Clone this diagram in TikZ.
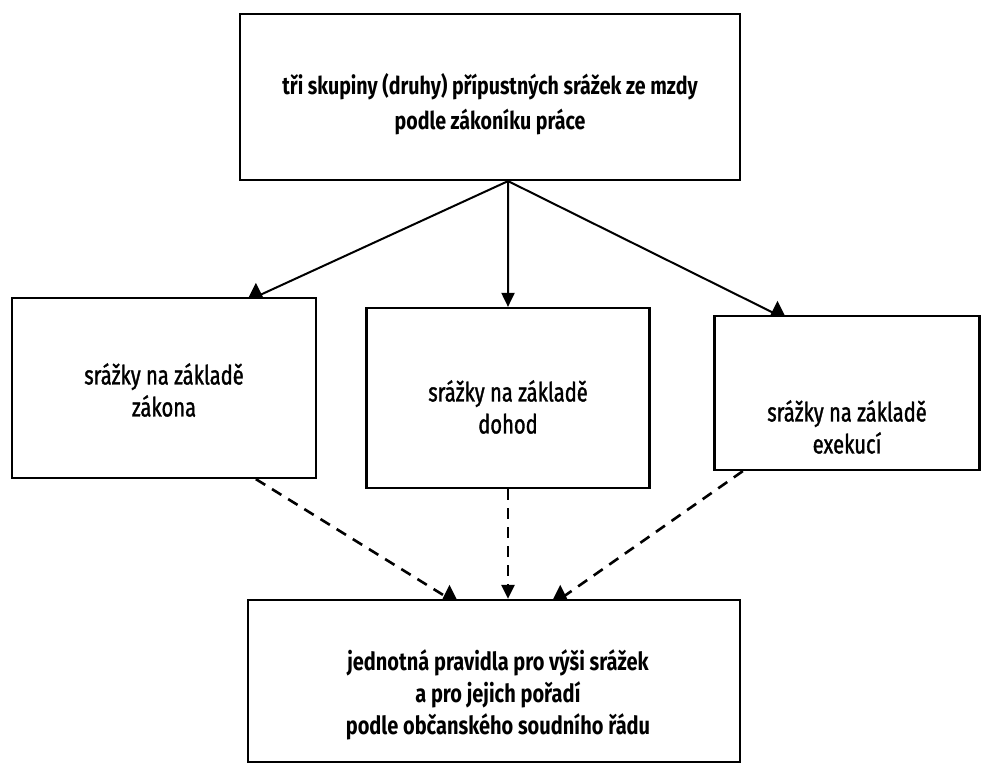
\documentclass[tikz,border=0pt]{standalone}
\usepackage{fontspec}
\setmainfont{Fira Sans}[FakeStretch=0.8]
\newfontfamily\medfont{Fira Sans}[FakeStretch=0.76, FakeBold=1.3]
\usepackage{tikz}
\usetikzlibrary{positioning, calc, arrows.meta}

\newcommand{\uptip}[1]{\fill ($(#1)+(-7,0)$) -- ($(#1)+(7,0)$) -- ($(#1)+(0,-14)$) -- cycle;}

\begin{document}
\begin{tikzpicture}[x=1pt, y=-1pt,
    box/.style={draw, line width=2.2pt, inner sep=0pt},
    smalltext/.style={align=center, inner sep=0pt, font=\medfont\fontsize{26.5}{32}\selectfont},
    bigtext/.style={align=center, inner sep=0pt, font=\bfseries\fontsize{24.5}{35}\selectfont},
    link/.style={line width=2pt},
    downtip/.style={-{Triangle[width=13pt, length=14pt]}}]
        \useasboundingbox (0,0) rectangle (984,767);

        % the boxes
        \node[box, minimum width=500pt, minimum height=166pt] (top) at (490,97) {};
        \node[box, minimum width=304pt, minimum height=180pt] (zakon) at (164,388) {};
        \node[box, minimum width=283pt, minimum height=180pt] (dohoda) at (508,398) {};
        \node[box, minimum width=265pt, minimum height=154pt] (exekuce) at (847,393) {};
        \node[box, minimum width=492pt, minimum height=162pt] (pravidla) at (494,681) {};

        % the texts
        \node[bigtext] (topText) at ($(top)+(0,7)$)
            {tři skupiny (druhy) přípustných srážek ze mzdy\\podle zákoníku práce};
        \node[smalltext] (zakonText) at ($(zakon)+(0,2)$) {srážky na základě\\zákona};
        \node[smalltext] (dohodaText) at ($(dohoda)+(0,9)$) {srážky na základě\\dohod};
        \node[smalltext] (exekuceText) at ($(exekuce)+(0,34)$) {srážky na základě\\exekucí};
        \node[bigtext, font=\bfseries\fontsize{25}{32}\selectfont] (pravidlaText) at ($(pravidla)+(4,14)$)
            {jednotná pravidla pro výši srážek\\a pro jejich pořadí\\podle občanského soudního řádu};

        % where the arrows meet
        \coordinate (fork) at ($(top.south west)!0.536!(top.south east)$);
        \coordinate (zakonIn)  at ($(zakon.north west)!0.8!(zakon.north east)$);
        \coordinate (exekuceIn) at ($(exekuce.north west)!0.24!(exekuce.north east)$);
        \coordinate (zakonOut)  at ($(zakon.south west)!0.8!(zakon.south east)$);
        \coordinate (exekuceOut) at ($(exekuce.south west)!0.11!(exekuce.south east)$);
        \coordinate (pravidlaL) at ($(pravidla.north west)!0.41!(pravidla.north east)$);
        \coordinate (pravidlaM) at (dohoda.south |- pravidla.north);
        \coordinate (pravidlaR) at ($(pravidla.north west)!0.634!(pravidla.north east)$);

        % solid arrows
        \draw[link] (fork) -- (zakonIn);
        \uptip{zakonIn}
        \draw[link, downtip] (fork) -- (dohoda.north);
        \draw[link] (fork) -- (exekuceIn);
        \uptip{exekuceIn}

        % dashed arrows
        \draw[link, line width=2.6pt, dash pattern=on 11pt off 8pt] (zakonOut) -- (pravidlaL);
        \uptip{pravidlaL}
        \draw[link, line width=2.6pt, dash pattern=on 11pt off 8pt, downtip] (dohoda.south) -- (pravidlaM);
        \draw[link, line width=2.6pt, dash pattern=on 11pt off 8pt] (exekuceOut) -- (pravidlaR);
        \uptip{pravidlaR}
    \end{tikzpicture}
\end{document}
